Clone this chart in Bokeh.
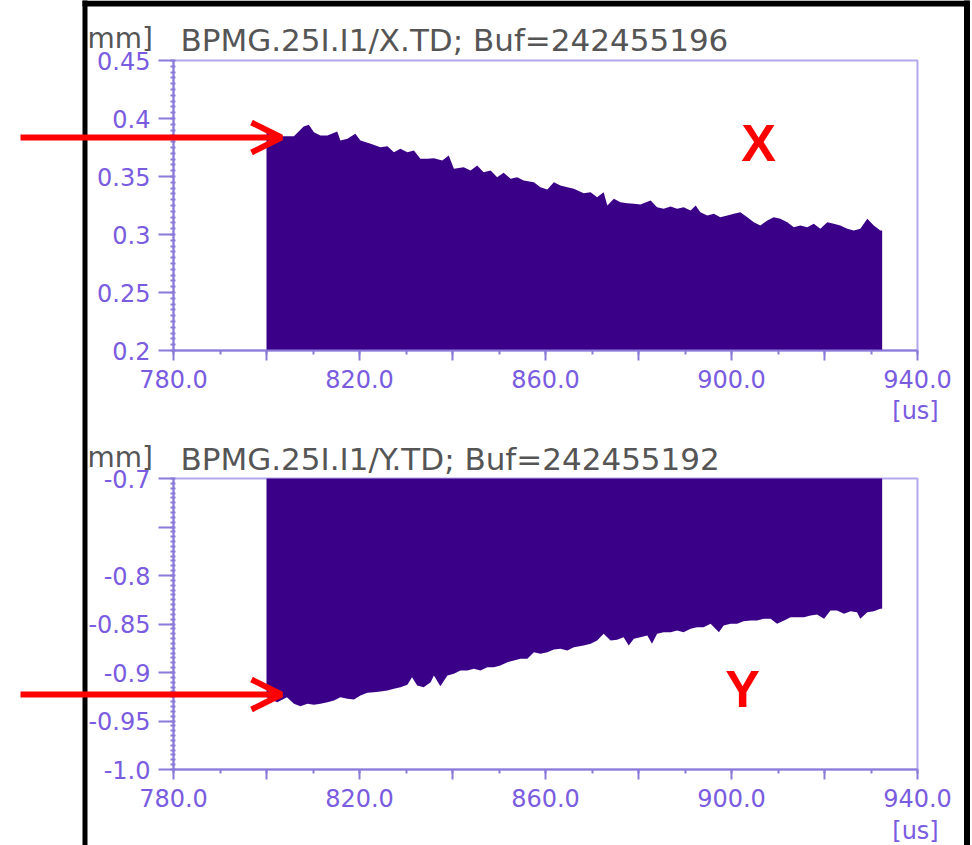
from bokeh.plotting import figure
from bokeh.models import (Range1d, SingleIntervalTicker, CustomJSTickFormatter,
                          Arrow, OpenHead, ColumnDataSource, GridBox)
from bokeh.core.properties import value
from bokeh.embed import file_html
from bokeh.resources import INLINE

# ---- horizontal (X) position, turn time in us / position in mm ----
x_time = [800.0, 801.6, 803.0, 805.9, 808.0, 809.1, 810.2, 811.6, 813.1, 815.2,
          815.9, 817.4, 819.1, 820.2, 822.4, 824.5, 826.0, 827.4, 828.8, 830.3,
          831.7, 833.1, 834.6, 836.0, 837.8, 839.2, 840.3, 842.4, 843.9, 845.3,
          846.7, 848.2, 849.6, 851.0, 852.5, 853.9, 855.3, 857.5, 858.9, 860.4,
          861.8, 863.2, 864.7, 866.1, 868.2, 869.7, 871.1, 872.5, 873.3, 874.7,
          876.1, 877.6, 879.0, 880.4, 882.6, 884.0, 885.4, 886.9, 888.3, 889.7,
          891.2, 892.3, 893.3, 894.8, 896.2, 897.6, 899.1, 900.5, 901.9, 903.4,
          904.8, 906.2, 907.7, 909.1, 910.5, 912.0, 913.4, 914.8, 916.3, 917.7,
          919.1, 920.6, 922.0, 923.4, 924.9, 926.3, 927.7, 929.2, 930.6, 932.0,
          932.4]
x_pos = [0.3888, 0.3888, 0.3847, 0.3847, 0.3931, 0.3946, 0.3882, 0.3853, 0.3853, 0.3888,
         0.3810, 0.3825, 0.3868, 0.3810, 0.3782, 0.3753, 0.3761, 0.3710, 0.3739, 0.3710,
         0.3724, 0.3653, 0.3653, 0.3658, 0.3638, 0.3681, 0.3566, 0.3580, 0.3552, 0.3595,
         0.3537, 0.3552, 0.3494, 0.3532, 0.3480, 0.3494, 0.3466, 0.3451, 0.3408, 0.3388,
         0.3451, 0.3422, 0.3408, 0.3394, 0.3356, 0.3365, 0.3322, 0.3365, 0.3250, 0.3308,
         0.3279, 0.3270, 0.3265, 0.3259, 0.3293, 0.3235, 0.3222, 0.3241, 0.3222, 0.3235,
         0.3207, 0.3250, 0.3192, 0.3164, 0.3179, 0.3149, 0.3164, 0.3179, 0.3192, 0.3149,
         0.3106, 0.3078, 0.3121, 0.3149, 0.3135, 0.3106, 0.3063, 0.3078, 0.3063, 0.3092,
         0.3049, 0.3106, 0.3092, 0.3078, 0.3049, 0.3035, 0.3049, 0.3135, 0.3078, 0.3035,
         0.3035]

# ---- vertical (Y) position ----
y_time = [800.0, 802.3, 804.4, 805.9, 807.3, 808.8, 810.2, 811.6, 813.1, 814.5,
          815.9, 817.4, 818.8, 820.2, 821.7, 823.1, 824.5, 826.0, 827.4, 828.8,
          830.3, 831.3, 832.4, 833.8, 835.3, 836.0, 837.4, 838.9, 840.3, 841.7,
          843.2, 844.6, 846.0, 847.5, 848.9, 850.3, 851.8, 853.2, 854.6, 856.1,
          857.5, 858.9, 860.4, 861.8, 863.2, 864.7, 866.1, 868.2, 869.7, 871.1,
          872.5, 874.0, 875.4, 876.8, 877.9, 879.0, 880.4, 881.9, 882.9, 884.0,
          885.4, 886.9, 888.3, 889.7, 891.2, 892.6, 894.0, 895.5, 897.3, 898.3,
          899.8, 901.2, 902.6, 904.1, 905.5, 906.9, 908.4, 909.8, 911.3, 912.7,
          914.1, 915.6, 917.0, 918.4, 919.9, 921.3, 922.7, 924.2, 925.6, 927.0,
          927.7, 929.2, 930.6, 932.0, 932.4]
y_pos = [-0.9255, -0.9306, -0.9255, -0.9323, -0.9347, -0.9323, -0.9333, -0.9323, -0.9306, -0.9289,
         -0.9255, -0.9271, -0.9278, -0.9237, -0.9209, -0.9203, -0.9196, -0.9186, -0.9168, -0.9152,
         -0.9127, -0.9048, -0.9134, -0.9152, -0.9100, -0.9031, -0.9141, -0.9031, -0.9013, -0.8979,
         -0.8979, -0.8962, -0.8979, -0.8945, -0.8945, -0.8928, -0.8894, -0.8876, -0.8859, -0.8859,
         -0.8791, -0.8807, -0.8791, -0.8763, -0.8756, -0.8773, -0.8739, -0.8722, -0.8704, -0.8670,
         -0.8601, -0.8670, -0.8663, -0.8636, -0.8722, -0.8653, -0.8636, -0.8619, -0.8704, -0.8601,
         -0.8585, -0.8585, -0.8567, -0.8585, -0.8549, -0.8533, -0.8533, -0.8498, -0.8585, -0.8515,
         -0.8498, -0.8498, -0.8471, -0.8464, -0.8464, -0.8446, -0.8446, -0.8498, -0.8464, -0.8430,
         -0.8430, -0.8430, -0.8412, -0.8402, -0.8446, -0.8361, -0.8361, -0.8395, -0.8368, -0.8378,
         -0.8446, -0.8378, -0.8368, -0.8343, -0.8343]

titles = ["BPMG.25I.I1/X.TD; Buf=242455196", "BPMG.25I.I1/Y.TD; Buf=242455192"]
plane_names = ["X", "Y"]
unit_y = "mm]"
unit_x = "[us]"

FILL = "#3a0088"
AXIS = "#8b7bd9"
OUTLINE = "#b3a8ee"
TICK_TXT = "#7a5ce0"
TITLE_TXT = "#555555"
FONT = "DejaVu Sans"
RED = "#ff0000"

W = 972
X_LO, X_HI = 780.0, 940.0
FRAME_L, FRAME_R = 173, 917


def panel(t, v, y_lo, y_hi, top_px, frame_h, height, hide_tick=None):
    p = figure(width=W, height=height, output_backend="svg",
               toolbar_location=None, x_range=Range1d(X_LO, X_HI),
               y_range=Range1d(y_lo, y_hi),
               min_border_left=FRAME_L, min_border_right=W - FRAME_R,
               min_border_top=top_px, min_border_bottom=height - top_px - frame_h)
    p.background_fill_color = "white"
    p.border_fill_color = "white"
    p.grid.visible = False
    p.outline_line_color = OUTLINE
    p.outline_line_width = 2
    p.outline_line_alpha = 1.0

    src = ColumnDataSource(dict(t=t, v=v))
    p.varea(x="t", y1=0.0, y2="v", source=src, fill_color=FILL)

    # x axis: ticks every 20 us, labels every 40 us, minor every 10 us
    xa = p.xaxis[0]
    xa.ticker = SingleIntervalTicker(interval=20, num_minor_ticks=2)
    xa.formatter = CustomJSTickFormatter(code="""
        const k = Math.round(tick);
        return ((k - 780) % 40 === 0) ? tick.toFixed(1) : "";
    """)
    xa.major_tick_out = 10
    xa.major_tick_in = 0
    xa.minor_tick_out = 4
    xa.minor_tick_in = 0
    xa.major_label_standoff = 9

    ya = p.yaxis[0]
    ya.ticker = SingleIntervalTicker(interval=0.05, num_minor_ticks=10)
    hide = "null" if hide_tick is None else repr(hide_tick)
    ya.formatter = CustomJSTickFormatter(code=f"""
        const h = {hide};
        if (h !== null && Math.abs(tick - h) < 1e-6) return "";
        let s = tick.toFixed(2);
        if (s.endsWith("0")) s = s.slice(0, -1);
        return s;
    """)
    ya.major_tick_out = 15
    ya.major_tick_in = 0
    ya.minor_tick_out = 3
    ya.minor_tick_in = 2
    ya.major_label_standoff = 8

    for ax in (xa, ya):
        ax.axis_line_color = AXIS
        ax.axis_line_width = 2
        ax.major_tick_line_color = AXIS
        ax.major_tick_line_width = 2
        ax.minor_tick_line_color = AXIS
        ax.minor_tick_line_width = 2
        ax.major_label_text_color = TICK_TXT
        ax.major_label_text_font = FONT
        ax.major_label_text_font_size = "24px"
    return p


p1 = panel(x_time, x_pos, 0.2, 0.45, 60, 290, 420)
p2 = panel(y_time, y_pos, -1.0, -0.7, 58, 291, 425, hide_tick=-0.75)
H = 420 + 425

# transparent page-sized layer for headers, pointers and the surrounding box
ov = figure(width=W, height=H, output_backend="svg", toolbar_location=None,
            x_range=Range1d(0, W), y_range=Range1d(H, 0),
            x_axis_type=None, y_axis_type=None, min_border=0,
            background_fill_color=None, border_fill_color=None,
            outline_line_color=None)
ov.frame_align = False  # keep this layer's frame on the whole page

# surrounding black box
ov.segment(x0=[84.5, 966.5, 82], y0=[-10, -10, 3], x1=[84.5, 966.5, 969],
           y1=[H + 10, H + 10, 3], line_color="black", line_width=[5, 6, 6])

# headers: unit and signal name
ov.text(x=[87, 87], y=[38, 457], text=[unit_y, unit_y], text_font=value(FONT),
        text_font_size="28px", text_color=TITLE_TXT, text_baseline="alphabetic")
ov.text(x=[180, 180], y=[39, 458], text=titles, text_font=value(FONT),
        text_font_size="31px", text_color=TITLE_TXT, text_baseline="alphabetic")

# time unit under the last tick label of each panel
ov.text(x=[915, 915], y=[410, 830], text=[unit_x, unit_x], text_font=value(FONT),
        text_font_size="24px", text_color=TICK_TXT, text_align="center",
        text_baseline="middle")

# plane letters
ov.text(x=[758, 742], y=[142, 688], text=plane_names,
        text_font=value("Liberation Sans"), text_font_style="bold",
        text_font_size="52px", text_color=RED, text_align="center",
        text_baseline="middle")

# red pointers to the first turn
for ay in (137, 694):
    ov.add_layout(Arrow(end=OpenHead(size=30, line_color=RED, line_width=6),
                        x_start=20, x_end=281, y_start=ay, y_end=ay,
                        line_color=RED, line_width=6))

grid = GridBox(children=[(p1, 0, 0), (p2, 1, 0), (ov, 0, 0, 2, 1)], spacing=0)
open("out.html", "w").write(file_html(grid, INLINE))
